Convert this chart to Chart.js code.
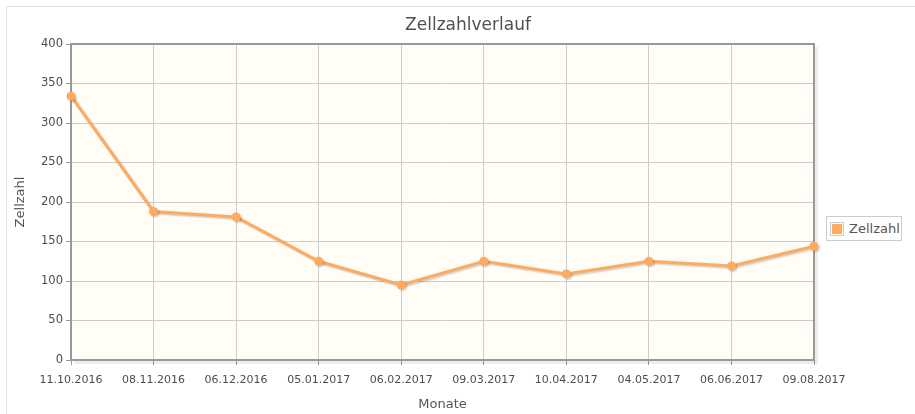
<!DOCTYPE html>
<html>
<head>
<meta charset="utf-8">
<script src="https://cdn.jsdelivr.net/npm/chart.js@4.4.1/dist/chart.umd.min.js"></script>
<style>
  html, body { margin: 0; padding: 0; background: #fff; overflow: hidden; }
  #wrap { position: relative; width: 915px; height: 414px; }
  #frame { position: absolute; left: 6px; top: 6px; width: 930px; height: 430px; border: 1px solid #e3e3e3; box-sizing: border-box; }
  #c { position: absolute; left: 0; top: 0; }
  #legend { position: absolute; left: 826px; top: 216px; width: 76px; height: 25px; border: 1px solid #cccccc; box-sizing: border-box; background: #fff;
            font-family: "DejaVu Sans", sans-serif; font-size: 13px; color: #555; display: flex; align-items: center; }
  #legend .sw { width: 14px; height: 14px; margin-left: 3px; margin-right: 5px; border: 1px solid #ccc; box-sizing: border-box; padding: 1px; }
  #legend .sw div { width: 100%; height: 100%; }
</style>
</head>
<body>
<div id="wrap">
  <div id="frame"></div>
  <canvas id="c" width="915" height="414"></canvas>
  <div id="legend"></div>
</div>
<script>
const TITLE = 'Zellzahlverlauf';
const X_TITLE = 'Monate';
const Y_TITLE = 'Zellzahl';
const SERIES_LABEL = 'Zellzahl';
const categories = ['11.10.2016','08.11.2016','06.12.2016','05.01.2017','06.02.2017','09.03.2017','10.04.2017','04.05.2017','06.06.2017','09.08.2017'];
const zellzahl = [334, 188, 181, 125, 95, 125, 109, 125, 119, 144];
const yMin = 0, yMax = 400, yStep = 50;

const SERIES_COLOR = '#FFAA5E';
const FONT = '"DejaVu Sans", sans-serif';

const plotDecor = {
  id: 'plotDecor',
  beforeDraw(chart) {
    const {ctx, chartArea: a} = chart;
    ctx.save();
    ctx.fillStyle = '#FFFDF6';
    ctx.fillRect(a.left, a.top, a.right - a.left, a.bottom - a.top);
    ctx.restore();
  },
  beforeDatasetsDraw(chart) {
    const {ctx, chartArea: a} = chart;
    ctx.save();
    ctx.strokeStyle = 'rgba(0,0,0,0.07)';
    ctx.lineWidth = 3;
    ctx.beginPath();
    ctx.moveTo(a.right + 2.5, a.top + 3);
    ctx.lineTo(a.right + 2.5, a.bottom + 2.5);
    ctx.lineTo(a.left + 3, a.bottom + 2.5);
    ctx.stroke();
    ctx.strokeStyle = '#999999';
    ctx.lineWidth = 2;
    ctx.strokeRect(a.left, a.top, a.right - a.left, a.bottom - a.top);
    ctx.restore();
    ctx.save();
    ctx.shadowColor = 'rgba(0,0,0,0.18)';
    ctx.shadowOffsetX = 1.5;
    ctx.shadowOffsetY = 1.5;
    ctx.shadowBlur = 1.5;
  },
  afterDatasetsDraw(chart) {
    chart.ctx.restore();
  },
  afterDraw(chart) {
    const {ctx} = chart;
    ctx.save();
    ctx.font = '17px ' + FONT;
    ctx.fillStyle = '#505050';
    ctx.textAlign = 'center';
    ctx.textBaseline = 'middle';
    ctx.fillText(TITLE, 468, 26);
    ctx.restore();
  }
};

const chart = new Chart(document.getElementById('c'), {
  type: 'line',
  data: {
    labels: categories,
    datasets: [{
      label: SERIES_LABEL,
      data: zellzahl,
      borderColor: SERIES_COLOR,
      backgroundColor: SERIES_COLOR,
      borderWidth: 3,
      pointRadius: 4.5,
      pointBackgroundColor: SERIES_COLOR,
      pointBorderColor: SERIES_COLOR,
      pointBorderWidth: 0,
      tension: 0,
      clip: false
    }]
  },
  options: {
    responsive: false,
    animation: false,
    devicePixelRatio: 1,
    layout: { padding: { top: 44, left: 0, right: 101, bottom: 0 } },
    plugins: {
      legend: { display: false },
      title: { display: false },
      tooltip: { enabled: false }
    },
    scales: {
      x: {
        type: 'category',
        offset: false,
        afterFit(s) { s.height = 54; },
        grid: { color: '#cccccc', lineWidth: 1, tickLength: 5, tickColor: '#999999', drawTicks: true },
        border: { display: false },
        ticks: { color: '#4d4d4d', font: { family: FONT, size: 11 }, padding: 9, maxRotation: 0, autoSkip: false },
        title: { display: true, text: X_TITLE, color: '#555555', font: { family: FONT, size: 13 }, padding: { top: 0, bottom: 2 } }
      },
      y: {
        min: yMin, max: yMax,
        afterFit(s) { s.width = 71; },
        grid: { color: '#cccccc', lineWidth: 1, tickLength: 5, tickColor: '#999999', drawTicks: true },
        border: { display: false },
        ticks: { stepSize: yStep, color: '#4d4d4d', font: { family: FONT, size: 11.5 }, padding: 3 },
        title: { display: true, text: Y_TITLE, color: '#555555', font: { family: FONT, size: 13 }, padding: { top: 13, bottom: 0 } }
      }
    }
  },
  plugins: [plotDecor]
});

const lg = document.getElementById('legend');
chart.data.datasets.forEach(ds => {
  const sw = document.createElement('div'); sw.className = 'sw';
  const inner = document.createElement('div'); inner.style.background = ds.backgroundColor;
  sw.appendChild(inner);
  const t = document.createElement('span'); t.textContent = ds.label;
  lg.appendChild(sw); lg.appendChild(t);
});
</script>
</body>
</html>
